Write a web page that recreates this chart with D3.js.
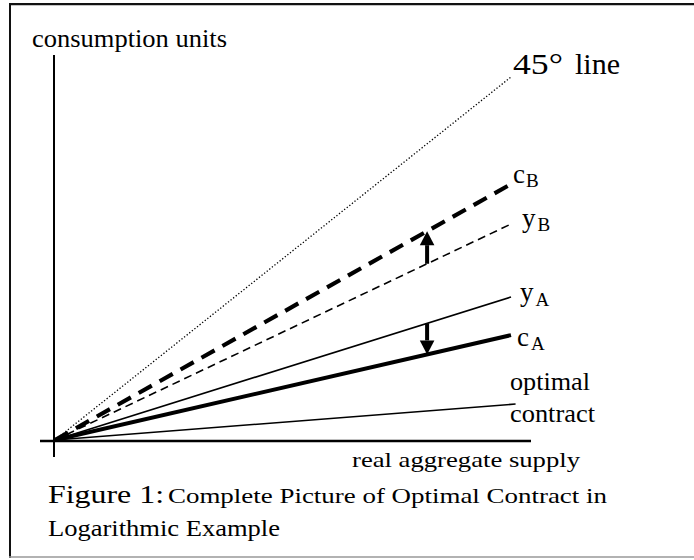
<!DOCTYPE html>
<html><head><meta charset="utf-8">
<script src="https://cdn.jsdelivr.net/npm/d3@7"></script>
<style>
html,body{margin:0;padding:0;background:#fff;}
svg{display:block;}
</style></head>
<body>
<svg id="chart" width="694" height="560"></svg>
<script>
// ---- data ----
const xPoints      = [0, 100];          // real aggregate supply
const line45       = [0, 100];          // 45° line
const cB           = [0, 70.5];         // consumption, state B
const yB           = [0, 59.5];         // output, state B
const yA           = [0, 39.4];         // output, state A
const cA           = [0, 28.9];         // consumption, state A
const optimalX     = [0, 101];
const optimal      = [0, 9.9];          // optimal contract
const arrowAt      = 81.6;              // x position of the transfer arrows

const FONT = "Liberation Serif";
const svg = d3.select("#chart");
const x = d3.scaleLinear().domain([0, 100]).range([55, 511]);
const y = d3.scaleLinear().domain([0, 100]).range([440, 77]);

// frame
svg.append("line").attr("x1",9).attr("x2",694).attr("y1",4.2).attr("y2",4.2).attr("stroke","#111").attr("stroke-width",2.3);
svg.append("line").attr("x1",10).attr("x2",10).attr("y1",3).attr("y2",558).attr("stroke","#111").attr("stroke-width",2);
svg.append("line").attr("x1",9).attr("x2",694).attr("y1",557).attr("y2",557).attr("stroke","#999").attr("stroke-width",1.5);

// axes
svg.append("line").attr("x1",x(0)-1).attr("x2",x(0)-1).attr("y1",55).attr("y2",457).attr("stroke","#000").attr("stroke-width",2);
svg.append("line").attr("x1",40).attr("x2",531).attr("y1",y(0)+1).attr("y2",y(0)+1).attr("stroke","#000").attr("stroke-width",2.4);

const lineGen = d3.line().x(d => x(d[0])).y(d => y(d[1]));
const zip = (xs, ys) => xs.map((v,i)=>[v, ys[i]]);

const series = [
  {vals: line45, xs: xPoints, w: 1.3, dash: "1.3,2"},
  {vals: cB, xs: xPoints, w: 4.2, dash: "15,9"},
  {vals: yB, xs: xPoints, w: 1.6, dash: "8,5"},
  {vals: yA, xs: xPoints, w: 1.6, dash: null},
  {vals: cA, xs: xPoints, w: 4, dash: null},
  {vals: optimal, xs: optimalX, w: 1.6, dash: null}
];
series.forEach(s => {
  svg.append("path").attr("d", lineGen(zip(s.xs, s.vals)))
    .attr("fill","none").attr("stroke","#000").attr("stroke-width", s.w)
    .attr("stroke-dasharray", s.dash);
});

// arrows (from y line to c line)
const at = (arr) => arr[0] + (arr[1]-arr[0]) * (arrowAt - xPoints[0]) / (xPoints[1]-xPoints[0]);
function arrow(fromV, toV){
  const ax = x(arrowAt), y0 = y(fromV), y1 = y(toV);
  const dir = Math.sign(y1 - y0);
  const headLen = 14, headW = 7.3;
  const yBase = y1 - dir*headLen;
  svg.append("line").attr("x1",ax).attr("x2",ax).attr("y1",y0).attr("y2",yBase)
    .attr("stroke","#000").attr("stroke-width",4);
  svg.append("path").attr("d",`M${ax},${y1}L${ax-headW},${yBase}L${ax+headW},${yBase}Z`).attr("fill","#000");
}
arrow(at(yB), at(cB));
arrow(at(yA), at(cA));

// text helpers
function txt(str, tx, ty, size, len){
  const t = svg.append("text").attr("x",tx).attr("y",ty).attr("font-size",size)
    .attr("font-family",FONT).attr("fill","#000").text(str);
  if (len) t.attr("textLength",len).attr("lengthAdjust","spacingAndGlyphs");
  return t;
}
function sub(main, s, tx, ty, dxSub, dySub){
  const t = svg.append("text").attr("x",tx).attr("y",ty).attr("font-size",27)
    .attr("font-family",FONT).attr("fill","#000");
  t.append("tspan").text(main);
  t.append("tspan").attr("font-size",19).attr("dy",dySub).attr("dx",dxSub).text(s);
}

txt("consumption units", 32, 47, 25, 195);
txt("45°", x(100)+2, y(100)-3, 29, 50);
txt("line", 575, y(100)-3, 29, 45);
sub("c", "B", x(100)+2, y(cB[1])-1.5, 1, 4);
sub("y", "B", x(100)+11, y(yB[1])+3, 2, 3.5);
sub("y", "A", x(100)+9, y(yA[1])+4.5, 2, 5);
sub("c", "A", x(100)+6, y(cA[1])+10.5, 2, 4.5);
txt("optimal", 510, 390, 26, 80);
txt("contract", 510, 421.5, 26, 85);
txt("real aggregate supply", 352, 467, 21.5, 228);
txt("Figure 1:", 48, 503, 26, 116);
txt("Complete Picture of Optimal Contract in", 168, 503, 21, 439);
txt("Logarithmic Example", 48, 536, 24, 232);
</script>
</body></html>
